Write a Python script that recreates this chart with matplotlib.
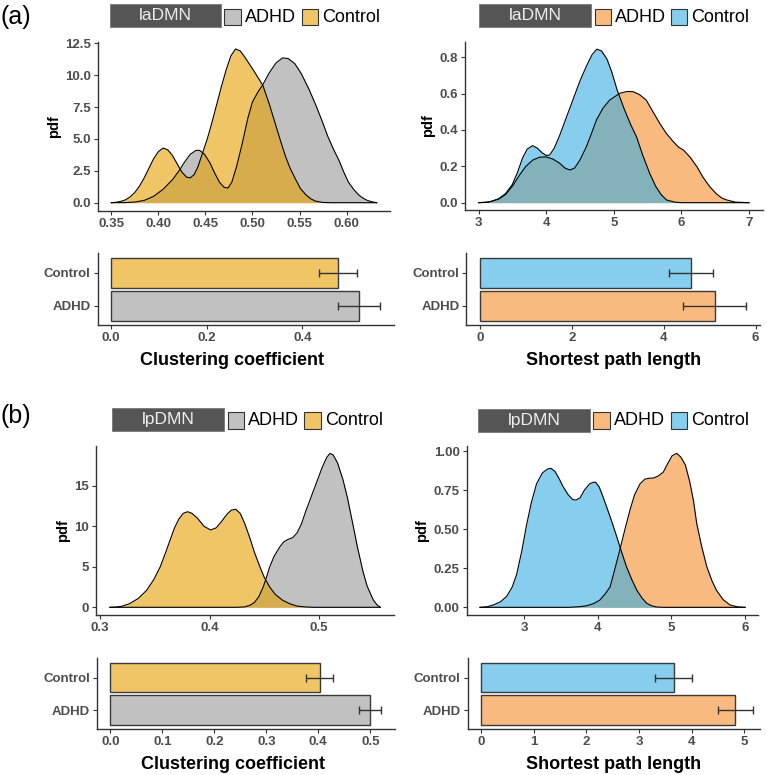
import matplotlib
matplotlib.use("Agg")
import matplotlib.pyplot as plt
from matplotlib.patches import Rectangle

plt.rcParams['font.family'] = ['Liberation Sans', 'DejaVu Sans']

W, H = 767, 775

# ---------------- data ----------------
groups = ["ADHD", "Control"]

# (a) laDMN clustering coefficient density
a_cc_ctrl_x = [0.350, 0.355, 0.360, 0.365, 0.370, 0.375, 0.380, 0.385, 0.390, 0.395, 0.400, 0.405,
               0.410, 0.415, 0.420, 0.425, 0.430, 0.434, 0.438, 0.442, 0.447, 0.452, 0.457, 0.462,
               0.467, 0.472, 0.477, 0.482, 0.487, 0.492, 0.500, 0.506, 0.511, 0.518, 0.525, 0.530,
               0.535, 0.540, 0.546, 0.551, 0.557, 0.562, 0.567, 0.575, 0.585, 0.632]
a_cc_ctrl_y = [0.0, 0.03, 0.1, 0.22, 0.45, 0.8, 1.3, 1.95, 2.7, 3.45, 4.0, 4.28,
               4.15, 3.7, 3.05, 2.4, 2.0, 1.95, 2.2, 2.8, 3.9, 5.0, 6.3, 7.7,
               9.1, 10.4, 11.5, 12.05, 11.9, 11.4, 10.5, 9.8, 9.2, 7.7, 6.0, 4.8,
               3.65, 2.7, 1.8, 1.1, 0.6, 0.3, 0.12, 0.02, 0.0, 0.0]
a_cc_adhd_x = [0.350, 0.365, 0.375, 0.385, 0.395, 0.405, 0.415, 0.422, 0.428, 0.434, 0.440, 0.444,
               0.449, 0.455, 0.460, 0.465, 0.470, 0.474, 0.478, 0.483, 0.489, 0.495, 0.500, 0.506,
               0.511, 0.518, 0.525, 0.532, 0.538, 0.545, 0.552, 0.560, 0.567, 0.574, 0.580, 0.586,
               0.592, 0.597, 0.602, 0.608, 0.613, 0.617, 0.622, 0.627, 0.632]
a_cc_adhd_y = [0.0, 0.01, 0.05, 0.18, 0.5, 1.05, 1.8, 2.5, 3.2, 3.8, 4.1, 4.1,
               3.8, 3.1, 2.3, 1.6, 1.2, 1.15, 1.6, 2.8, 4.6, 6.6, 7.9, 8.7,
               9.25, 10.2, 10.95, 11.35, 11.3, 10.9, 10.1, 8.9, 7.7, 6.4, 5.2, 4.2,
               3.3, 2.4, 1.6, 1.0, 0.6, 0.38, 0.18, 0.07, 0.0]

# (a) laDMN shortest path length density
a_spl_ctrl_x = [3.00, 3.10, 3.20, 3.30, 3.40, 3.50, 3.58, 3.65, 3.72, 3.80, 3.87, 3.94,
                4.00, 4.05, 4.12, 4.20, 4.30, 4.40, 4.50, 4.60, 4.68, 4.75, 4.82, 4.90,
                4.97, 5.05, 5.15, 5.25, 5.336, 5.43, 5.533, 5.62, 5.70, 5.78, 5.90, 6.00, 7.00]
a_spl_ctrl_y = [0.0, 0.002, 0.008, 0.022, 0.05, 0.1, 0.17, 0.245, 0.295, 0.314, 0.30, 0.275,
                0.26, 0.262, 0.30, 0.37, 0.47, 0.57, 0.67, 0.755, 0.815, 0.845, 0.835, 0.79,
                0.72, 0.62, 0.52, 0.43, 0.363, 0.26, 0.16, 0.09, 0.045, 0.015, 0.003, 0.0, 0.0]
a_spl_adhd_x = [3.00, 3.15, 3.30, 3.40, 3.50, 3.607, 3.70, 3.805, 3.90, 4.00, 4.10, 4.20,
                4.28, 4.35, 4.42, 4.50, 4.595, 4.67, 4.744, 4.84, 4.94, 5.09, 5.20, 5.286,
                5.38, 5.48, 5.58, 5.68, 5.78, 5.88, 5.96, 6.03, 6.13, 6.23, 6.32, 6.42,
                6.52, 6.60, 6.67, 6.80, 7.00]
a_spl_adhd_y = [0.0, 0.003, 0.02, 0.045, 0.09, 0.152, 0.2, 0.235, 0.25, 0.252, 0.24, 0.217,
                0.19, 0.18, 0.19, 0.235, 0.308, 0.38, 0.455, 0.52, 0.565, 0.602, 0.612, 0.611,
                0.595, 0.565, 0.5, 0.437, 0.38, 0.336, 0.305, 0.29, 0.25, 0.198, 0.14, 0.088,
                0.048, 0.025, 0.015, 0.003, 0.0]

# (b) lpDMN clustering coefficient density
b_cc_ctrl_x = [0.309, 0.315, 0.320, 0.327, 0.335, 0.3426, 0.349, 0.355, 0.360, 0.364, 0.368, 0.372,
               0.376, 0.380, 0.384, 0.389, 0.395, 0.401, 0.406, 0.411, 0.416, 0.420, 0.424, 0.428,
               0.432, 0.437, 0.441, 0.446, 0.450, 0.455, 0.460, 0.467, 0.474, 0.480, 0.488, 0.495,
               0.556]
b_cc_ctrl_y = [0.0, 0.04, 0.13, 0.45, 1.1, 2.1, 3.4, 5.0, 6.8, 8.3, 9.8, 10.9,
               11.6, 11.8, 11.6, 11.0, 10.0, 9.55, 9.8, 10.6, 11.5, 12.0, 12.1, 11.6,
               10.4, 8.5, 6.8, 5.0, 3.7, 2.5, 1.6, 0.85, 0.4, 0.15, 0.04, 0.0,
               0.0]
b_cc_adhd_x = [0.309, 0.425, 0.432, 0.437, 0.441, 0.445, 0.449, 0.452, 0.455, 0.459, 0.4644, 0.468,
               0.472, 0.476, 0.480, 0.484, 0.488, 0.493, 0.498, 0.503, 0.507, 0.510, 0.513, 0.517,
               0.522, 0.526, 0.531, 0.535, 0.540, 0.544, 0.5496, 0.553, 0.556]
b_cc_adhd_y = [0.0, 0.0, 0.05, 0.25, 0.6, 1.3, 2.5, 3.7, 5.0, 6.3, 7.5, 8.1,
               8.4, 8.6, 9.2, 10.3, 11.9, 13.7, 15.5, 17.3, 18.5, 19.0, 18.8, 17.8,
               15.7, 13.5, 10.2, 7.5, 4.5, 2.6, 0.9, 0.3, 0.0]

# (b) lpDMN shortest path length density
b_spl_ctrl_x = [2.403, 2.50, 2.583, 2.68, 2.765, 2.84, 2.90, 2.97, 3.036, 3.10, 3.17, 3.25,
                3.32, 3.366, 3.42, 3.48, 3.533, 3.60, 3.66, 3.705, 3.76, 3.82, 3.89, 3.94,
                3.973, 4.02, 4.07, 4.12, 4.19, 4.258, 4.32, 4.39, 4.46, 4.53, 4.60, 4.665,
                4.73, 4.80, 4.90, 6.00]
b_spl_ctrl_y = [0.0, 0.004, 0.015, 0.035, 0.07, 0.13, 0.21, 0.36, 0.53, 0.67, 0.79, 0.86,
                0.885, 0.889, 0.87, 0.82, 0.77, 0.72, 0.69, 0.686, 0.70, 0.75, 0.79, 0.80,
                0.80, 0.77, 0.71, 0.644, 0.55, 0.452, 0.36, 0.26, 0.18, 0.11, 0.06, 0.026,
                0.01, 0.002, 0.0, 0.0]
b_spl_adhd_x = [2.403, 3.60, 3.75, 3.85, 3.95, 4.03, 4.10, 4.167, 4.23, 4.30, 4.37, 4.438,
                4.50, 4.574, 4.64, 4.70, 4.755, 4.82, 4.89, 4.95, 5.01, 5.072, 5.13, 5.19,
                5.25, 5.30, 5.343, 5.41, 5.48, 5.55, 5.61, 5.70, 5.795, 5.90, 6.00]
b_spl_adhd_y = [0.0, 0.0, 0.004, 0.01, 0.025, 0.047, 0.085, 0.13, 0.24, 0.367, 0.5, 0.623,
                0.72, 0.79, 0.82, 0.826, 0.827, 0.84, 0.865, 0.92, 0.97, 0.985, 0.96, 0.91,
                0.80, 0.68, 0.537, 0.39, 0.26, 0.17, 0.11, 0.05, 0.015, 0.003, 0.0]

# bar means and errors (ADHD, Control)
a_cc_mean = [0.519, 0.475]
a_cc_err = [0.044, 0.040]
a_spl_mean = [5.11, 4.60]
a_spl_err = [0.69, 0.48]
b_cc_mean = [0.4995, 0.403]
b_cc_err = [0.022, 0.026]
b_spl_mean = [4.83, 3.66]
b_spl_err = [0.33, 0.355]

# ---------------- styling ----------------
ALPHA = 0.6
GREY = "#999999"
YELLOW = "#E69F00"
BLUE = "#37ADE4"
ORANGE = "#F58C2B"
TICK_C = "#4D4D4D"
TICK_FS = 9.5

fig = plt.figure(figsize=(W / 100, H / 100), dpi=100)


def px_axes(left, right, top, bottom):
    return fig.add_axes([left / W, 1 - bottom / H, (right - left) / W, (bottom - top) / H])


def style(ax):
    for s in ["top", "right"]:
        ax.spines[s].set_visible(False)
    for s in ["left", "bottom"]:
        ax.spines[s].set_color("#333333")
        ax.spines[s].set_linewidth(1.0)
    ax.tick_params(colors="#333333", length=3, width=0.8, labelsize=TICK_FS, pad=2)
    for lab in ax.get_xticklabels() + ax.get_yticklabels():
        lab.set_fontweight("bold")
        lab.set_color(TICK_C)


def density(ax, x1, y1, c1, x2, y2, c2):
    ax.fill_between(x1, 0, y1, color=c1, alpha=ALPHA, linewidth=0)
    ax.plot(x1, y1, color="black", lw=0.8)
    ax.fill_between(x2, 0, y2, color=c2, alpha=ALPHA, linewidth=0)
    ax.plot(x2, y2, color="black", lw=0.8)
    ax.set_ylabel("pdf", fontsize=10.5, fontweight="bold", labelpad=3)


def bars(ax, means, errs, c_adhd, c_ctrl, xlabel, labx, laby):
    pos = [1, 2]
    ax.barh(pos, means, height=0.9, color=[c_adhd, c_ctrl], alpha=ALPHA,
            edgecolor="none")
    ax.barh(pos, means, height=0.9, color="none", edgecolor="#3a3a3a", linewidth=1.0)
    ax.errorbar(means, pos, xerr=errs, fmt="none", ecolor="#333333", elinewidth=1.0,
                capsize=2.9, capthick=1.0)
    ax.set_yticks(pos)
    ax.set_yticklabels(groups)
    ax.set_ylim(0.4, 2.6)
    ax.set_xlabel(xlabel, fontsize=13, fontweight="bold")
    ax.xaxis.set_label_coords(labx, laby)


# ---- (a) density left
ax = px_axes(98, 390, 41.7, 210.7)
density(ax, a_cc_adhd_x, a_cc_adhd_y, GREY, a_cc_ctrl_x, a_cc_ctrl_y, YELLOW)
ax.set_xlim(0.3359, 0.6461)
ax.set_ylim(-0.627, 12.62)
ax.set_xticks([0.35, 0.40, 0.45, 0.50, 0.55, 0.60])
ax.set_xticklabels(["0.35", "0.40", "0.45", "0.50", "0.55", "0.60"])
ax.set_yticks([0, 2.5, 5, 7.5, 10, 12.5])
ax.set_yticklabels(["0.0", "2.5", "5.0", "7.5", "10.0", "12.5"])
style(ax)

# ---- (a) density right
ax = px_axes(465, 762.5, 41.7, 210.3)
density(ax, a_spl_adhd_x, a_spl_adhd_y, ORANGE, a_spl_ctrl_x, a_spl_ctrl_y, BLUE)
ax.set_xlim(2.8, 7.2)
ax.set_ylim(-0.042, 0.886)
ax.set_xticks([3, 4, 5, 6, 7])
ax.set_yticks([0, 0.2, 0.4, 0.6, 0.8])
ax.set_yticklabels(["0.0", "0.2", "0.4", "0.6", "0.8"])
style(ax)

# ---- (a) bars left
ax = px_axes(97.6, 393.5, 252.9, 325.5)
bars(ax, a_cc_mean, a_cc_err, GREY, YELLOW, "Clustering coefficient", 0.454, -0.36)
ax.set_xlim(-0.028, 0.5906)
ax.set_xticks([0.0, 0.2, 0.4])
ax.set_xticklabels(["0.0", "0.2", "0.4"])
style(ax)

# ---- (a) bars right
ax = px_axes(466.4, 759.8, 252.9, 325.5)
bars(ax, a_spl_mean, a_spl_err, ORANGE, BLUE, "Shortest path length", 0.503, -0.36)
ax.set_xlim(-0.29, 6.09)
ax.set_xticks([0, 2, 4, 6])
style(ax)

# ---- (b) density left
ax = px_axes(96.3, 393.9, 445.7, 615)
density(ax, b_cc_adhd_x, b_cc_adhd_y, GREY, b_cc_ctrl_x, b_cc_ctrl_y, YELLOW)
ax.set_xlim(0.2966, 0.5684)
ax.set_ylim(-0.95, 19.95)
ax.set_xticks([0.3, 0.4, 0.5])
ax.set_yticks([0, 5, 10, 15])
style(ax)

# ---- (b) density right
ax = px_axes(466.5, 758.4, 445.7, 615)
density(ax, b_spl_adhd_x, b_spl_adhd_y, ORANGE, b_spl_ctrl_x, b_spl_ctrl_y, BLUE)
ax.set_xlim(2.22, 6.18)
ax.set_ylim(-0.049, 1.034)
ax.set_xticks([3, 4, 5, 6])
ax.set_yticks([0, 0.25, 0.5, 0.75, 1.0])
ax.set_yticklabels(["0.00", "0.25", "0.50", "0.75", "1.00"])
style(ax)

# ---- (b) bars left
ax = px_axes(96.9, 395.2, 658.3, 729.4)
bars(ax, b_cc_mean, b_cc_err, GREY, YELLOW, "Clustering coefficient", 0.456, -0.37)
ax.set_xlim(-0.0261, 0.548)
ax.set_xticks([0.0, 0.1, 0.2, 0.3, 0.4, 0.5])
style(ax)

# ---- (b) bars right
ax = px_axes(467.7, 760, 658.3, 729.4)
bars(ax, b_spl_mean, b_spl_err, ORANGE, BLUE, "Shortest path length", 0.5, -0.37)
ax.set_xlim(-0.258, 5.3)
ax.set_xticks([0, 1, 2, 3, 4, 5])
style(ax)


# ---------------- legends ----------------
def rect_px(x0, x1, y0, y1, **kw):
    r = Rectangle((x0 / W, 1 - y1 / H), (x1 - x0) / W, (y1 - y0) / H,
                  transform=fig.transFigure, **kw)
    fig.patches.append(r)


def text_px(x, y, s, **kw):
    fig.text(x / W, 1 - y / H, s, **kw)


def legend(box, title, k1, c1, t1x, k2, c2, t2x, ytop, ybot, ktop, kbot):
    rect_px(box[0], box[1], ytop, ybot, facecolor="#555555", edgecolor="#777777", lw=0.6)
    text_px((box[0] + box[1]) / 2, (ytop + ybot) / 2, title, ha="center", va="center",
            fontsize=12.5, color="#EDEDED")
    rect_px(k1[0], k1[1], ktop, kbot, facecolor=c1, alpha=ALPHA, edgecolor="none")
    rect_px(k1[0], k1[1], ktop, kbot, facecolor="none", edgecolor="#333333", lw=0.8)
    text_px(t1x, (ktop + kbot) / 2, "ADHD", ha="left", va="center", fontsize=13, color="black")
    rect_px(k2[0], k2[1], ktop, kbot, facecolor=c2, alpha=ALPHA, edgecolor="none")
    rect_px(k2[0], k2[1], ktop, kbot, facecolor="none", edgecolor="#333333", lw=0.8)
    text_px(t2x, (ktop + kbot) / 2, "Control", ha="left", va="center", fontsize=13, color="black")


legend((110, 221), "laDMN", (224, 241), GREY, 245, (302, 318), YELLOW, 322, 4, 26.7, 9.3, 25)
legend((479, 591), "laDMN", (595, 611), ORANGE, 615, (671, 687), BLUE, 691, 4, 26.7, 9.3, 25)
legend((112, 224), "lpDMN", (228, 244), GREY, 248, (304, 321), YELLOW, 325, 408, 431, 412.3, 429.3)
legend((478, 590), "lpDMN", (593, 610), ORANGE, 614, (671, 687), BLUE, 691, 409, 432, 412.3, 429.3)

text_px(0, 17, "(a)", ha="left", va="center", fontsize=18, color="black")
text_px(0, 416, "(b)", ha="left", va="center", fontsize=18, color="black")

fig.savefig("out.png", dpi=100)
